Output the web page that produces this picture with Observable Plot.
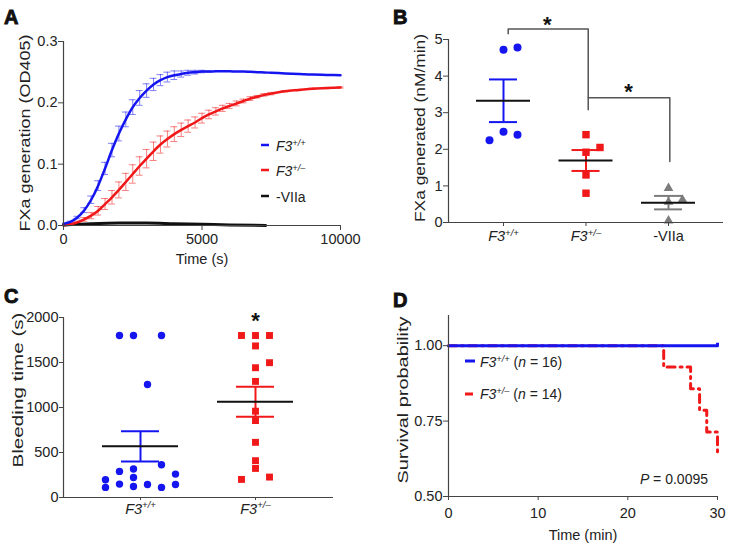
<!DOCTYPE html>
<html><head><meta charset="utf-8">
<script src="https://cdn.jsdelivr.net/npm/d3@7"></script>
<script src="https://cdn.jsdelivr.net/npm/@observablehq/plot@0.6"></script>
<style>
body{margin:0;background:#fff;}
#fig{position:relative;width:731px;height:549px;overflow:hidden;}
#fig .panel{position:absolute;}
#fig svg{overflow:visible;display:block;}
</style></head><body><div id="fig"></div>
<script>
// ---------------- DATA ----------------
// Panel A: FXa generation time course (mean, SEM)
const timeA = [0,250,500,750,1000,1250,1500,1750,2000,2250,2500,2750,3000,3250,3500,3750,4000,4250,4500,4750,5000,5250,5500,5750,6000,6250,6500,6750,7000,7250,7500,8000,8500,9000,9500,10000];
const wtMeanA = [0.003,0.006,0.013,0.025,0.042,0.065,0.093,0.123,0.150,0.173,0.193,0.208,0.220,0.230,0.237,0.242,0.245,0.247,0.249,0.250,0.251,0.251,0.2515,0.2515,0.2515,0.251,0.251,0.2505,0.250,0.2495,0.249,0.248,0.247,0.246,0.2455,0.245];
const wtSemA  = [0,0.001,0.002,0.004,0.006,0.008,0.010,0.011,0.012,0.012,0.012,0.012,0.011,0.010,0.009,0.008,0.007,0.005,0.004,0.003,0.002,0.001,0,0,0,0,0,0,0,0,0,0,0,0,0,0];
const hetMeanA = [0.000,0.002,0.005,0.010,0.016,0.024,0.035,0.046,0.058,0.071,0.084,0.097,0.109,0.121,0.132,0.141,0.149,0.156,0.162,0.168,0.175,0.181,0.186,0.191,0.195,0.199,0.203,0.207,0.210,0.213,0.215,0.219,0.221,0.223,0.224,0.225];
const hetSemA  = [0,0.001,0.002,0.003,0.005,0.007,0.009,0.011,0.013,0.014,0.015,0.015,0.015,0.015,0.014,0.013,0.012,0.011,0.010,0.009,0.008,0.007,0.006,0.005,0.004,0.004,0.003,0.003,0.002,0.002,0.002,0.001,0.001,0.001,0.001,0.001];
const timeNoVIIaA = [0,1000,2000,3000,4000,5000,6000,7300];
const noVIIaA = [0.001,0.003,0.004,0.004,0.003,0.002,0.001,0.000];

// Panel B: FXa generated (nM/min)
const catsB = ["F3+/+", "F3+/–", "-VIIa"];
const fxaWT = [4.72, 4.78, 2.25, 2.48, 2.40];
const fxaHet = [2.40, 2.05, 1.92, 1.30, 0.80];
const fxaNoVIIa = [0.94, 0.62, 0.56, 0.05];
const slotWT_B = [0, 1, -1, 0, 1];
const slotHet_B = [0, 1, 0, 0, 0];
const slotNoVIIa_B = [0, 1, 0, 0];
const bracketB1 = [[0.057,5.16],[0.057,5.29],[1.027,5.29],[1.027,3.08]];
const bracketB2 = [[1.027,3.41],[2.016,3.41],[2.016,1.67]];

// Panel C: bleeding time (s)
const catsC = ["F3+/+", "F3+/–"];
const bleedWT = [1800,1800,1800,1256,197,112,290,316,223,364,260,149,123,145,112,145];
const slotWT_C = [-1.5,-0.5,1.5,0.5,-2.5,-2.5,-1.5,-0.5,-0.5,1.5,2.5,-1.5,-0.5,0.5,1.5,2.5];
const bleedHet = [1800,1800,1800,1684,1498,1442,1290,959,855,613,409,323,201,227];
const slotHet_C = [-1,0,1,0,1,0,0,0,0,0,0,0,-1,1];

// Panel D: survival
const survTimeWT = [0, 30];
const survWT = [1.0, 1.0];
const survTimeHet = [0, 24, 27, 28, 28.8, 30];
const survHet = [1.0, 0.929, 0.857, 0.786, 0.714, 0.643];

// ---------------- STYLE ----------------
const BLUE = "#1515f0", RED = "#f01818", GRAY = "#7c7c7c", AXIS = "#444";
const FONT = "Liberation Sans, Arial, Helvetica, sans-serif";
const TICK = 14.5;
const baseStyle = "background: transparent; overflow: visible; color: #222;";
const fig = document.getElementById("fig");

function place(svg, left, top) {
  svg.setAttribute("font-family", FONT);
  svg.setAttribute("font-size", TICK);
  svg.style.fontFamily = FONT;
  svg.style.fontSize = TICK + "px";
  const d = document.createElement("div");
  d.className = "panel"; d.style.left = left + "px"; d.style.top = top + "px";
  d.appendChild(svg); fig.appendChild(d);
}
function rich(sel, segs, size) {
  let shifted = false;
  for (const [t, k] of segs) {
    const ts = sel.append("tspan").text(t);
    if (k === "i" || k === "s") ts.attr("font-style", "italic");
    if (k === "s") { ts.attr("font-size", (size * 0.66) + "px").attr("dy", -size * 0.38); shifted = true; }
    else if (shifted) { ts.attr("dy", size * 0.38); shifted = false; }
  }
}
function addText(svg, x, y, segs, opts = {}) {
  const size = opts.size || 14;
  const t = d3.select(svg).append("text").attr("x", x).attr("y", y)
    .attr("font-family", FONT).attr("font-size", size + "px").attr("fill", opts.fill || "#222")
    .attr("text-anchor", opts.anchor || "start");
  if (opts.bold) t.attr("font-weight", "bold").attr("stroke", "#111").attr("stroke-width", 0.9);
  rich(t, segs, size);
  return t;
}
function addYLabel(svg, x, y, text, len) {
  d3.select(svg).append("text").attr("transform", `translate(${x},${y}) rotate(-90)`)
    .attr("text-anchor", "middle").attr("font-family", FONT).attr("font-size", "15.5px").attr("fill", "#222")
    .attr("textLength", len).attr("lengthAdjust", "spacingAndGlyphs").text(text);
}
function supTicks(svg) {
  d3.select(svg).selectAll("text").each(function() {
    const m = this.textContent.match(/^F3(\+\/[+–])$/);
    if (m) { const el = d3.select(this); el.text(""); rich(el, [["F3","i"],[m[1],"s"]], TICK); }
  });
}
function swatch(svg, x1, x2, y, color, w) {
  d3.select(svg).append("line").attr("x1", x1).attr("x2", x2).attr("y1", y).attr("y2", y)
    .attr("stroke", color).attr("stroke-width", w);
}

// ---------------- PANEL A ----------------
const aWT = timeA.map((t, i) => ({t, m: wtMeanA[i], s: wtSemA[i]}));
const aHet = timeA.map((t, i) => ({t, m: hetMeanA[i], s: hetSemA[i]}));
const aNo = timeNoVIIaA.map((t, i) => ({t, m: noVIIaA[i]}));
const errMarks = (rows, color) => {
  const r = rows.filter(d => d.s > 0);
  const o = {stroke: color, strokeOpacity: 0.55, strokeWidth: 1};
  return [
    Plot.ruleX(r, {x: "t", y1: d => d.m - d.s, y2: d => d.m + d.s, ...o}),
    Plot.ruleY(r, {y: d => d.m + d.s, x1: d => d.t - 125, x2: d => d.t + 125, ...o}),
    Plot.ruleY(r, {y: d => d.m - d.s, x1: d => d.t - 125, x2: d => d.t + 125, ...o})
  ];
};
const svgA = Plot.plot({
  width: 365, height: 280, marginLeft: 63, marginRight: 25, marginTop: 41, marginBottom: 55,
  style: baseStyle,
  x: {domain: [0, 10000]}, y: {domain: [0, 0.3]},
  marks: [
    ...errMarks(aWT, BLUE), ...errMarks(aHet, RED),
    Plot.line(aNo, {x: "t", y: "m", stroke: "#111", strokeWidth: 3, curve: "monotone-x"}),
    Plot.line(aHet, {x: "t", y: "m", stroke: RED, strokeWidth: 2.5, curve: "monotone-x"}),
    Plot.line(aWT, {x: "t", y: "m", stroke: BLUE, strokeWidth: 2.5, curve: "monotone-x"}),
    Plot.ruleX([0], {stroke: AXIS, strokeWidth: 1.2}),
    Plot.ruleY([0], {stroke: AXIS, strokeWidth: 1.2}),
    Plot.axisY([0, 0.1, 0.2, 0.3], {tickFormat: d3.format(".1f"), tickSize: 5, tickPadding: 1, stroke: AXIS, fontSize: TICK, label: null}),
    Plot.axisX([0, 5000, 10000], {tickFormat: d3.format("d"), tickSize: 5, tickPadding: 3, stroke: AXIS, fontSize: TICK, label: null}),
    Plot.text(["Time (s)"], {text: d => d, frameAnchor: "bottom", dy: 38, lineAnchor: "bottom", fontSize: 14.5})
  ]
});
place(svgA, 0, 0);
addYLabel(svgA, 30, 133, "FXa generation (OD405)", 197);
addText(svgA, 4, 24, [["A","n"]], {size: 20, bold: true, fill: "#111"});
swatch(svgA, 261, 269, 145, BLUE, 2.5);
addText(svgA, 276, 151, [["F3","i"],["+/+","s"]]);
swatch(svgA, 261, 269, 170, RED, 2.5);
addText(svgA, 276, 176, [["F3","i"],["+/–","s"]]);
swatch(svgA, 261, 269, 196, "#111", 2.5);
addText(svgA, 276, 202, [["-VIIa","n"]]);

// ---------------- PANEL B ----------------
const stepB = 82.5, slotPxB = 14;
const groupsB = [
  {vals: fxaWT, slots: slotWT_B, color: BLUE, symbol: "circle", r: 4},
  {vals: fxaHet, slots: slotHet_B, color: RED, symbol: "square", r: 4.2},
  {vals: fxaNoVIIa, slots: slotNoVIIa_B, color: GRAY, symbol: "triangle", r: 3.6}
];
function groupMarks(groups, stepPx, slotPx, meanHalfPx, capHalfPx) {
  const marks = [];
  groups.forEach((g, gi) => {
    const pts = g.vals.map((v, i) => ({x: gi + g.slots[i] * slotPx / stepPx, v}));
    marks.push(Plot.dot(pts, {x: "x", y: "v", symbol: g.symbol, r: g.r, fill: g.color, stroke: "none"}));
    const m = d3.mean(g.vals), s = d3.deviation(g.vals) / Math.sqrt(g.vals.length);
    const st = [{g: gi, m, s}];
    marks.push(Plot.ruleX(st, {x: "g", y1: d => d.m - d.s, y2: d => d.m + d.s, stroke: g.color, strokeWidth: 2}));
    marks.push(Plot.ruleY(st, {y: d => d.m + d.s, x1: d => d.g - capHalfPx / stepPx, x2: d => d.g + capHalfPx / stepPx, stroke: g.color, strokeWidth: 2}));
    marks.push(Plot.ruleY(st, {y: d => d.m - d.s, x1: d => d.g - capHalfPx / stepPx, x2: d => d.g + capHalfPx / stepPx, stroke: g.color, strokeWidth: 2}));
    marks.push(Plot.ruleY(st, {y: "m", x1: d => d.g - meanHalfPx / stepPx, x2: d => d.g + meanHalfPx / stepPx, stroke: "#111", strokeWidth: 2}));
  });
  return marks;
}
const svgB = Plot.plot({
  width: 366, height: 280, marginLeft: 83, marginRight: 8, marginTop: 39, marginBottom: 58,
  style: baseStyle,
  x: {domain: [-55 / stepB, 2 + 55 / stepB]}, y: {domain: [0, 5]},
  marks: [
    Plot.line(bracketB1, {x: d => d[0], y: d => d[1], stroke: "#555", strokeWidth: 1.5}),
    Plot.line(bracketB2, {x: d => d[0], y: d => d[1], stroke: "#555", strokeWidth: 1.5}),
    Plot.text([[0.53, 5.2], [1.515, 3.37]], {x: d => d[0], y: d => d[1], text: d => "*", lineAnchor: "bottom", fontSize: 22, fontWeight: "bold", fill: "#111"}),
    ...groupMarks(groupsB, stepB, slotPxB, 27, 14),
    Plot.ruleX([-55 / stepB], {stroke: AXIS, strokeWidth: 1.2}),
    Plot.ruleY([0], {stroke: AXIS, strokeWidth: 1.2}),
    Plot.axisY([0, 1, 2, 3, 4, 5], {tickSize: 5, tickPadding: 1, stroke: AXIS, fontSize: TICK, label: null}),
    Plot.axisX([0, 1, 2], {tickFormat: i => catsB[i], tickSize: 4, tickPadding: 4.5, stroke: AXIS, fontSize: TICK, label: null})
  ]
});
place(svgB, 365, 0);
supTicks(svgB);
addYLabel(svgB, 60, 128, "FXa generated (nM/min)", 188);
addText(svgB, 28, 24, [["B","n"]], {size: 20, bold: true, fill: "#111"});

// ---------------- PANEL C ----------------
const stepC = 115, slotPxC = 14;
const groupsC = [
  {vals: bleedWT, slots: slotWT_C, color: BLUE, symbol: "circle", r: 3.7},
  {vals: bleedHet, slots: slotHet_C, color: RED, symbol: "square", r: 3.9}
];
const svgC = Plot.plot({
  width: 365, height: 269, marginLeft: 63, marginRight: 32, marginTop: 37, marginBottom: 52,
  style: baseStyle,
  x: {domain: [-77 / stepC, 1 + 78 / stepC]}, y: {domain: [0, 2000]},
  marks: [
    ...groupMarks(groupsC, stepC, slotPxC, 38, 19),
    Plot.text([[1, 1880]], {x: d => d[0], y: d => d[1], text: d => "*", lineAnchor: "bottom", fontSize: 22, fontWeight: "bold", fill: "#111"}),
    Plot.ruleX([-77 / stepC], {stroke: AXIS, strokeWidth: 1.2}),
    Plot.ruleY([0], {stroke: AXIS, strokeWidth: 1.2}),
    Plot.axisY([0, 500, 1000, 1500, 2000], {tickFormat: d3.format("d"), tickSize: 4, tickPadding: 1, stroke: AXIS, fontSize: TICK, label: null}),
    Plot.axisX([0, 1], {tickFormat: i => catsC[i], tickSize: 3, tickPadding: 3, stroke: AXIS, fontSize: TICK, label: null})
  ]
});
place(svgC, 0, 280);
supTicks(svgC);
addYLabel(svgC, 23, 110, "Bleeding time (s)", 155);
addText(svgC, 4, 23, [["C","n"]], {size: 20, bold: true, fill: "#111"});

// ---------------- PANEL D ----------------
const dWT = survTimeWT.map((t, i) => ({t, s: survWT[i]}));
const dHet = survTimeHet.map((t, i) => ({t, s: survHet[i]}));
const svgD = Plot.plot({
  width: 366, height: 269, marginLeft: 83, marginRight: 14, marginTop: 35, marginBottom: 53,
  style: baseStyle,
  x: {domain: [0, 30]}, y: {domain: [0.5, 1.1]},
  marks: [
    Plot.line(dHet, {x: "t", y: "s", curve: "step-after", stroke: RED, strokeWidth: 3, strokeDasharray: "8,5,2,5"}),
    Plot.line(dWT, {x: "t", y: "s", stroke: BLUE, strokeWidth: 3}),
    Plot.ruleX([survTimeWT[1]], {y1: 1, y2: 1.008, stroke: BLUE, strokeWidth: 3}),
    Plot.ruleX([0], {stroke: AXIS, strokeWidth: 1.2}),
    Plot.ruleY([0.5], {stroke: AXIS, strokeWidth: 1.2}),
    Plot.axisY([0.5, 0.75, 1.0], {tickFormat: d3.format(".2f"), tickSize: 5, tickPadding: 1, stroke: AXIS, fontSize: TICK, label: null}),
    Plot.axisX([0, 10, 20, 30], {tickSize: 4, tickPadding: 7.5, stroke: AXIS, fontSize: TICK, label: null}),
    Plot.text(["Time (min)"], {text: d => d, frameAnchor: "bottom", dy: 43, lineAnchor: "bottom", fontSize: 14.5})
  ]
});
place(svgD, 365, 280);
addYLabel(svgD, 43, 120, "Survival probability", 167);
addText(svgD, 28, 27, [["D","n"]], {size: 20, bold: true, fill: "#111"});
swatch(svgD, 100, 110, 81, BLUE, 3);
addText(svgD, 115, 87, [["F3","i"],["+/+","s"],[" (","n"],["n","i"],[" = 16)","n"]]);
swatch(svgD, 100, 108, 114, RED, 3);
addText(svgD, 115, 119, [["F3","i"],["+/–","s"],[" (","n"],["n","i"],[" = 14)","n"]]);
addText(svgD, 343, 204, [["P","i"],[" = 0.0095","n"]], {anchor: "end"});
</script>
</body></html>
